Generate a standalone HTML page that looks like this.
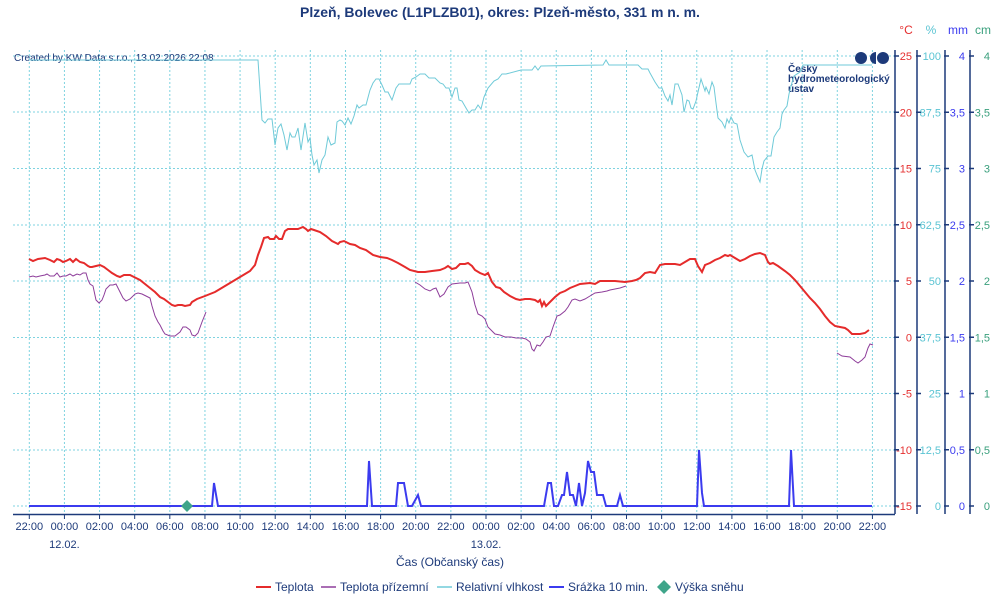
<!DOCTYPE html>
<html><head><meta charset="utf-8"><style>
body{margin:0;background:#fff;width:1000px;height:600px;overflow:hidden}
svg{display:block;font-family:"Liberation Sans",sans-serif}
</style></head><body>
<svg width="1000" height="600" viewBox="0 0 1000 600">
<text x="500" y="17" text-anchor="middle" font-size="14" font-weight="bold" fill="#1d3a7a">Plzeň, Bolevec (L1PLZB01), okres: Plzeň-město, 331 m n. m.</text>
<g font-size="12"><text x="906" y="34" text-anchor="middle" fill="#e53030">°C</text><text x="931" y="34" text-anchor="middle" fill="#5bc4d3">%</text><text x="958" y="34" text-anchor="middle" fill="#3b3bef">mm</text><text x="983" y="34" text-anchor="middle" fill="#3aa07d">cm</text></g>
<g stroke="#7fd3e0" stroke-width="1" stroke-dasharray="2,2">
<line x1="13" y1="56" x2="895" y2="56"/><line x1="13" y1="112" x2="895" y2="112"/><line x1="13" y1="168.5" x2="895" y2="168.5"/><line x1="13" y1="225" x2="895" y2="225"/><line x1="13" y1="281" x2="895" y2="281"/><line x1="13" y1="337.5" x2="895" y2="337.5"/><line x1="13" y1="393.5" x2="895" y2="393.5"/><line x1="13" y1="450" x2="895" y2="450"/><line x1="13" y1="506" x2="895" y2="506"/>
<g id="vg"></g>
</g>
<g stroke="#1d3a7a" stroke-width="1.5"><line x1="13" y1="514.5" x2="895" y2="514.5"/><line x1="895" y1="50" x2="895" y2="514"/><line x1="917" y1="50" x2="917" y2="514"/><line x1="945" y1="50" x2="945" y2="514"/><line x1="970" y1="50" x2="970" y2="514"/></g>
<g id="ticks"></g>
<text x="14" y="61" font-size="10" fill="#1d3a7a">Created by KW Data s.r.o., 13.02.2026 22:08</text>
<g fill="#1d3a7a"><circle cx="861" cy="58" r="6"/><path d="M876 52 A6 6 0 0 0 876 64Z"/><circle cx="883" cy="58" r="6"/>
<text x="788" y="72" font-size="10" font-weight="bold">Český</text><text x="788" y="82" font-size="10" font-weight="bold">hydrometeorologický</text><text x="788" y="92" font-size="10" font-weight="bold">ústav</text></g>
<polyline fill="none" stroke="#6fcad8" stroke-width="1" points="29,60 258,60 262,120 265,123 268,119 272,119 275,145 278,128 281,124 284,135 287,150 290,133 292,137 295,137 298,128 301,150 305,123 308,142 310,138 312,155 314,165 317,160 319,173 322,160 325,155 328,137 331,145 335,143 337,122 340,120 342,121 345,125 348,118 351,124 354,116 357,105 359,108 363,105 366,105 370,90 373,83 376,79 379,79 382,85 385,92 388,92 392,100 396,88 399,84 405,84 410,84 412,79 416,77 420,74 425,74 429,78 435,78 440,83 443,84 446,88 449,88 452,97 455,88 457,88 459,100 462,101 466,108 469,113 472,110 475,110 478,105 481,109 484,97 488,88 494,81 498,79 502,74 506,74 521,70 532,70 535,66 538,70 541,66 603,65 606,60 609,65 638,65 642,69 648,69 650,73 655,82 659,88 662,88 665,96 668,101 670,95 672,105 675,84 678,84 682,95 684,112 687,100 689,101 691,108 693,109 696,101 698,92 701,79 705,91 706,87 709,94 712,82 714,87 716,103 718,118 720,120 722,122 725,128 727,119 729,123 731,117 734,123 737,124 740,140 744,152 748,157 752,155 755,170 757,175 760,182 762,169 764,161 768,156 771,156 774,137 777,132 780,128 782,114 784,110 787,106 789,94 791,86 794,76 800,72 803,65 872,65"/>
<polyline fill="none" stroke="#8e3d9a" stroke-width="1" points="29,277 33,276 36,277 40,276 45,275 47,274 50,276 54,276 57,273 60,277 63,276 66,276 70,274 73,276 77,274 80,275 83,273 86,273 88,280 90,284 93,286 96,300 99,303 102,300 104,295 106,289 110,285 113,285 116,284 119,290 123,298 126,301 130,299 135,294 138,293 142,294 146,296 150,298 152,306 155,316 158,322 160,325 163,331 165,334 170,336 175,336 180,332 183,327 186,327 190,330 192,335 195,336 198,333 202,322 206,312"/>
<polyline fill="none" stroke="#8e3d9a" stroke-width="1" points="415,282 420,285 425,289 430,291 433,289 436,288 440,297 444,294 448,287 452,284 460,283 465,283 468,282 472,292 475,305 478,314 482,316 485,319 488,327 492,331 495,334 500,335 505,337 511,337 516,338 522,338 526,339 530,342 532,349 534,351 537,345 540,346 543,342 546,337 550,336 553,327 557,316 560,315 565,311 568,307 572,300 575,299 580,301 585,299 590,296 595,293 602,292 607,291 610,290 615,289 620,288 626,286"/>
<polyline fill="none" stroke="#8e3d9a" stroke-width="1" points="837,353 842,356 850,357 855,361 858,363 862,360 865,357 868,348 870,344 873,345"/>
<polyline fill="none" stroke="#e52b2b" stroke-width="2" points="29,259 33,261 38,259 45,258 50,260 54,262 57,259 60,260 63,262 66,261 70,259 73,262 76,259 80,262 84,263 88,266 90,267 92,267 96,266 100,265 104,267 108,270 112,273 117,276 120,277 124,275 130,275 136,278 140,280 145,284 150,288 155,292 160,297 164,299 168,302 172,305 175,306 178,305 182,305 185,306 190,305 192,302 197,299 205,296 210,294 215,292 220,289 225,286 230,283 235,280 240,277 245,274 250,271 255,265 258,255 261,247 264,238 268,237 270,239 274,239 276,236 279,239 282,239 285,231 288,229 298,229 303,227 306,229 308,231 311,229 314,230 320,232 326,236 332,241 336,243 338,244 340,242 344,241 350,244 355,245 360,248 366,250 373,255 380,257 387,258 392,260 398,263 405,267 410,270 418,272 425,272 432,271 440,270 445,268 448,266 452,269 456,268 460,264 465,264 468,263 472,266 475,270 480,273 485,275 488,273 492,282 496,287 500,288 504,292 510,296 516,299 520,300 525,299 530,299 535,300 538,302 540,300 542,306 544,302 546,306 550,302 555,297 560,293 565,291 570,288 575,286 580,284 590,283 595,284 600,281 615,281 625,282 632,281 636,280 640,278 645,273 650,272 655,273 660,265 665,264 675,264 680,265 685,262 690,259 695,259 698,266 702,272 705,265 710,263 715,260 720,258 725,255 728,256 730,255 735,258 740,261 745,259 750,256 755,254 760,253 765,255 768,262 770,264 773,263 778,266 785,271 790,275 795,280 800,286 805,292 810,298 815,303 820,309 825,316 830,322 835,326 840,327 845,328 848,330 852,334 860,334 865,333 869,330"/>
<polyline fill="none" stroke="#3b3bef" stroke-width="2" points="29,506 212,506 214,483 218,506 367,506 369,461 372,506 396,506 398,483 404,483 408,506 412,506 418,495 421,506 544,506 548,483 551,483 554,506 558,506 562,495 564,495 567,472 570,495 573,495 576,506 579,483 582,506 585,493 588,461 591,472 594,472 597,495 603,495 606,506 617,506 620,495 623,506 697,506 699,450 702,493 704,506 789,506 791,450 794,506 872,506"/>
<path d="M187 500 L193 506 L187 512 L181 506Z" fill="#3fa58a"/>
<g font-size="11" fill="#1d3a7a" text-anchor="middle" id="xl"></g>
<text x="450" y="566" font-size="12" fill="#1d3a7a" text-anchor="middle">Čas (Občanský čas)</text>
<g font-size="12" fill="#1d3a7a">
<line x1="256" y1="587" x2="271" y2="587" stroke="#e52b2b" stroke-width="2"/><text x="275" y="591">Teplota</text>
<line x1="321" y1="587" x2="336" y2="587" stroke="#8e3d9a" stroke-width="1.5"/><text x="340" y="591">Teplota přízemní</text>
<line x1="437" y1="587" x2="452" y2="587" stroke="#6fcad8" stroke-width="1.5"/><text x="456" y="591">Relativní vlhkost</text>
<line x1="549" y1="587" x2="564" y2="587" stroke="#3b3bef" stroke-width="2"/><text x="568" y="591">Srážka 10 min.</text>
<path d="M664 580 L671 587 L664 594 L657 587Z" fill="#3fa58a"/><text x="675" y="591">Výška sněhu</text>
</g>
</svg>
<script>
var ns="http://www.w3.org/2000/svg";
function el(p,t,a,tx){var e=document.createElementNS(ns,t);for(var k in a)e.setAttribute(k,a[k]);if(tx!==undefined)e.textContent=tx;p.appendChild(e);return e;}
var vg=document.getElementById('vg'),xl=document.getElementById('xl'),tk=document.getElementById('ticks');
var hrs=["22:00","00:00","02:00","04:00","06:00","08:00","10:00","12:00","14:00","16:00","18:00","20:00"];
for(var i=0;i<=24;i++){var x=29.3+i*35.13;el(vg,'line',{x1:x,y1:50,x2:x,y2:514});
el(tk,'line',{x1:x,y1:514,x2:x,y2:519,stroke:'#1d3a7a'});
el(xl,'text',{x:x,y:530},hrs[i%12]);}
el(xl,'text',{x:64.4,y:548},"12.02.");el(xl,'text',{x:486,y:548},"13.02.");
var C=["25","20","15","10","5","0","-5","-10","-15"],P=["100","87,5","75","62,5","50","37,5","25","12,5","0"],M=["4","3,5","3","2,5","2","1,5","1","0,5","0"];
for(var j=0;j<9;j++){var y=56+j*56.25;
[[895,'#e53030',C,912],[917,'#5bc4d3',P,941],[945,'#3b3bef',M,965],[970,'#3aa07d',M,990]].forEach(function(a){
el(tk,'line',{x1:a[0]-1,y1:y,x2:a[0]+4,y2:y,stroke:'#1d3a7a','stroke-width':1.5});
el(tk,'text',{x:a[3],y:y+4,'font-size':11,fill:a[1],'text-anchor':'end'},a[2][j]);});}
</script>
</body></html>
